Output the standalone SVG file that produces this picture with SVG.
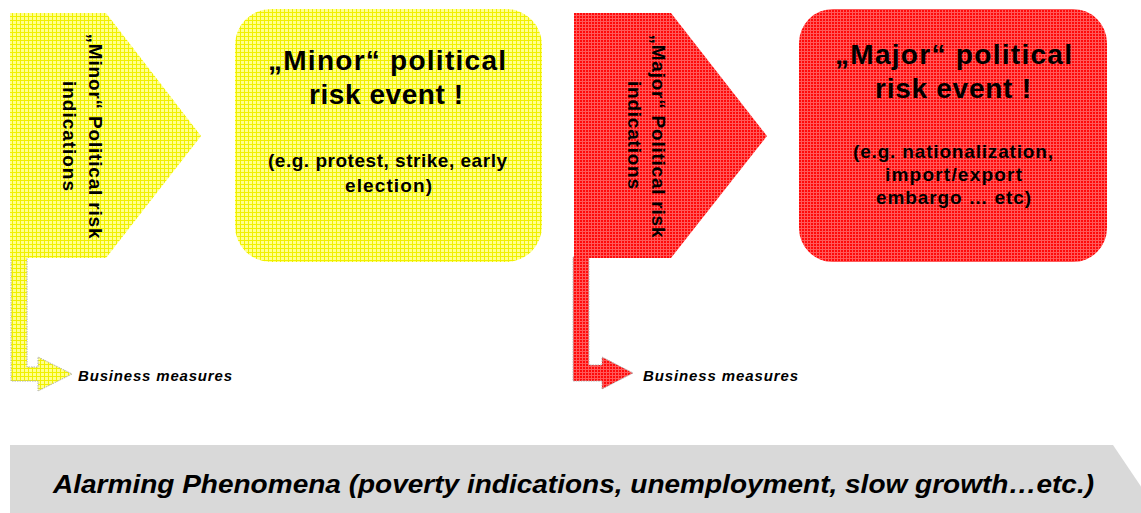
<svg xmlns="http://www.w3.org/2000/svg" width="1141" height="513" viewBox="0 0 1141 513">
<defs>
<pattern id="pY" width="4" height="4" patternUnits="userSpaceOnUse">
<rect width="4" height="4" fill="#ffff8c"/>
<path d="M0,0.5H4M0.5,0V4" stroke="#f0f000" stroke-width="1"/>
</pattern>
<pattern id="pR" width="3" height="3" patternUnits="userSpaceOnUse">
<rect width="3" height="3" fill="#ff0a0a"/>
<path d="M0,0.5H3M0.5,0V3" stroke="#ff5a5a" stroke-width="1"/>
</pattern>
<style>
text{font-family:"Liberation Sans",Arial,sans-serif;font-weight:bold;fill:#000}
.yel{fill:url(#pY)}
.red{fill:url(#pR)}
.rot{font-size:19px;text-anchor:middle}
.head{font-size:28px}
.sub{font-size:19px}
.bm{font-size:15px;font-style:italic}
.larrow{stroke:#b0b0b0;stroke-width:1;stroke-dasharray:1.5 1}
</style>
</defs>
<g id="bottom-arrow">
<polygon points="10,445 1113,445 1150,500 1113,555 10,555" fill="#d9d9d9"/>
<text x="53" y="493" font-size="25" font-style="italic" textLength="1041" lengthAdjust="spacingAndGlyphs">Alarming Phenomena (poverty indications, unemployment, slow growth…etc.)</text>
</g>
<g id="connectors">
<path class="yel larrow" d="M11,257H27V367H38V357L72,374L38,391V381H11Z"/>
<path class="red larrow" d="M573,257H589V365H602V357L633,373L602,389V381H573Z"/>
</g>
<g id="minor-indications">
<polygon class="yel" points="10,13 106,13 201,136 106,258 10,258"/>
<text class="rot" transform="translate(89,136) rotate(90)" textLength="205">„Minor“ Political risk</text>
<text class="rot" transform="translate(63,136) rotate(90)" textLength="110">indications</text>
</g>
<g id="minor-event">
<rect class="yel" x="235" y="9" width="307" height="253" rx="36"/>
<text class="head" x="268" y="70" textLength="238">„Minor“ political</text>
<text class="head" x="309" y="104" textLength="154">risk event !</text>
<text class="sub" x="268" y="167" textLength="239">(e.g. protest, strike, early</text>
<text class="sub" x="345" y="192" textLength="87">election)</text>
</g>
<g id="major-indications">
<polygon class="red" points="574,13 671,13 767,136 671,258 574,258"/>
<text class="rot" transform="translate(652,136) rotate(90)" textLength="203">„Major“ Political risk</text>
<text class="rot" transform="translate(628,135) rotate(90)" textLength="108">indications</text>
</g>
<g id="major-event">
<rect class="red" x="799" y="9" width="308" height="253" rx="34"/>
<text class="head" x="835" y="64" textLength="237">„Major“ political</text>
<text class="head" x="875" y="98" textLength="156">risk event !</text>
<text class="sub" x="853" y="158" textLength="200">(e.g. nationalization,</text>
<text class="sub" x="885" y="181" textLength="137">import/export</text>
<text class="sub" x="876" y="204" textLength="155">embargo … etc)</text>
</g>
<g id="business-measures-1">
<text class="bm" x="78" y="381" textLength="154">Business  measures</text>
</g>
<g id="business-measures-2">
<text class="bm" x="643" y="381" textLength="155">Business  measures</text>
</g>
</svg>
